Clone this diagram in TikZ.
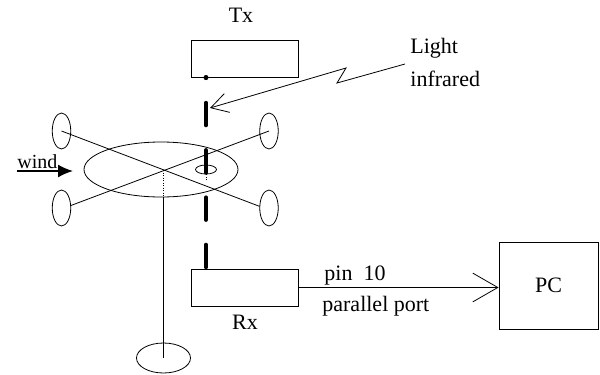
\documentclass[tikz,border=0pt]{standalone}
\usepackage{fontspec}
\setmainfont{Liberation Serif}
\usepackage{tikz}
\usetikzlibrary{arrows.meta,shapes.geometric,positioning}

\begin{document}
\begin{tikzpicture}[x=1pt,y=-1pt,line width=0.8pt,font=\fontsize{22}{26}\selectfont,
    box/.style={draw,rectangle,inner sep=0pt,minimum width=107pt,minimum height=37pt},
    oval/.style={draw,ellipse,inner sep=0pt},
    blade/.style={oval,minimum width=18.5pt,minimum height=36pt},
    label/.style={inner sep=0pt,anchor=base west},
    barb/.style={-{Straight Barb[length=#1,width=1.15*#1]}},
    beam/.style={line width=4pt,line cap=round,dash pattern=on 22.5pt off 24.8pt,dash phase=22pt}]
  \useasboundingbox (0,0) rectangle (600,375);
  \node[box]  (tx)    at (244.5,58.5)  {};
  \node[box]  (rx)    at (244.5,287.5) {};
  \node[box,minimum width=99pt,minimum height=87pt] (pc) at (548.5,285.5) {PC};
  \node[inner sep=0pt] (txname) at (241,15)  {Tx};
  \node[inner sep=0pt] (rxname) at (245,322) {Rx};
  \node[oval,minimum width=154pt,minimum height=55pt] (disk) at (161,169.5) {};
  \node[oval,minimum width=21pt,minimum height=9pt]   (hole) at (206,169.5) {};
  \node[oval,minimum width=54pt,minimum height=30pt]  (base) at (163.5,358) {};
  \node[blade] (bladeTL) at (61.5,131) {};
  \node[blade] (bladeBL) at (61.5,208) {};
  \node[blade] (bladeTR) at (269,131)  {};
  \node[blade] (bladeBR) at (269,208)  {};
  \node[label] (light)    at (410,53)  {Light};
  \node[label] (infrared) at (410,86)  {infrared};
  \node[label] (pin)      at (324,280) {pin\ \ 10};
  \node[label] (port)     at (322,311) {parallel port};
  \node[label,font=\fontsize{20}{24}\selectfont] (wind) at (17,168) {wind};
  \node[circle,fill,inner sep=0pt,minimum size=5pt] (txdot) at (206,77.5) {};
  \coordinate (rxdot)  at (206,268);
  \coordinate (hub)    at (163.5,170);
  \coordinate (foot)   at (163.5,197);
  \coordinate (ztop)   at (346,68);
  \coordinate (zlow)   at (337,83);
  \coordinate (zstart) at (405,64);
  \coordinate (zend)   at (210,108);
  \coordinate (wstart) at (17,171);
  \coordinate (wend)   at (73,171);
  \draw (bladeTL.center) -- (bladeBR.170);
  \draw (bladeBL.15) -- (bladeTR.center);
  \draw[dotted,line width=0.5pt] (hub) -- (foot);
  \draw[dotted,line width=0.5pt] (hole.south) -- ++(0,6);
  \draw (foot) -- (base.center);
  \draw[beam] (txdot.center) -- (rxdot);
  \draw[barb=17pt] (zstart) -- (zlow) -- (ztop) -- (zend);
  \draw[barb=25pt] (rx.east) -- (rx.east -| pc.west);
  \draw[-{Latex[length=15pt,width=13pt]},line width=1.6pt] (wstart) -- (wend);
\end{tikzpicture}
\end{document}
